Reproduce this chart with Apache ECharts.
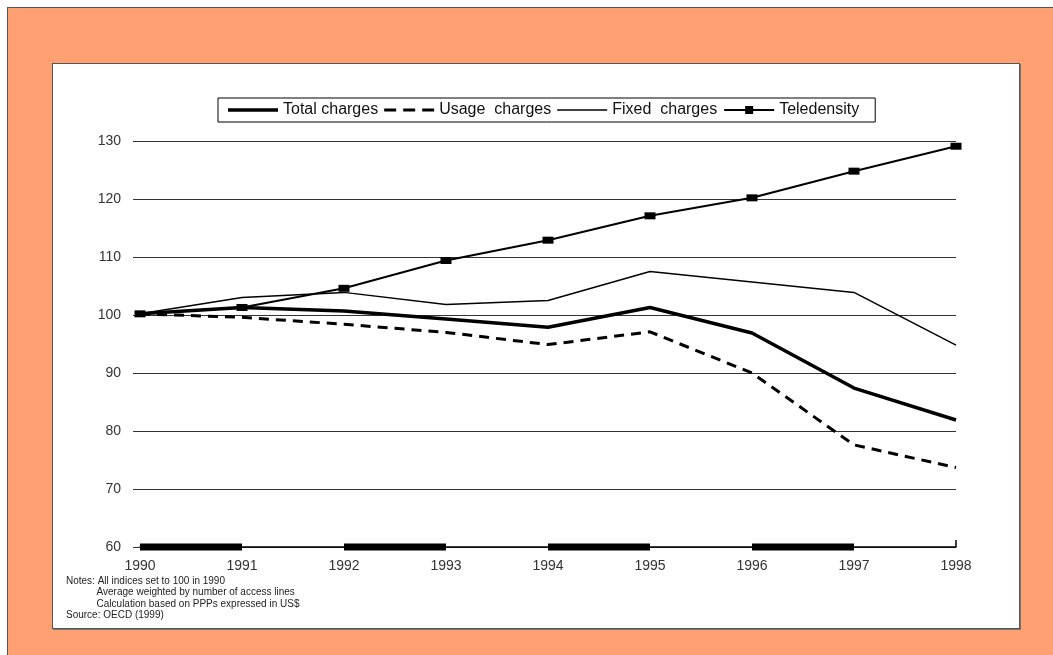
<!DOCTYPE html>
<html>
<head>
<meta charset="utf-8">
<script src="https://cdn.jsdelivr.net/npm/echarts@6/dist/echarts.min.js"></script>
<style>
  html, body { margin: 0; padding: 0; background: #ffffff; overflow: hidden; }
  #frame {
    position: absolute; left: 7px; top: 7px; width: 1060px; height: 660px;
    background: #ffa073; border-left: 1px solid #555; border-top: 1px solid #555;
  }
  #panel {
    position: absolute; left: 52px; top: 63px; width: 966px; height: 564px;
    background: #ffffff; border: 1px solid #555;
    box-shadow: 1px 1px 0 #777;
  }
  #chart { position: absolute; left: 0; top: 0; width: 1053px; height: 655px; }
</style>
</head>
<body>
<div id="frame"></div>
<div id="panel"></div>
<div id="chart"></div>
<script>
// Years on the horizontal axis
const years = ['1990', '1991', '1992', '1993', '1994', '1995', '1996', '1997', '1998'];

// Index series (1990 = 100)
const totalCharges = [100.2, 101.3, 100.7, 99.3, 97.9, 101.3, 96.9, 87.4, 81.9];
const usageCharges = [100.2, 99.6, 98.4, 97.0, 94.9, 97.1, 90.0, 77.6, 73.7];
const fixedCharges = [100.2, 103.0, 103.9, 101.8, 102.5, 107.5, 105.7, 103.9, 94.8];
const teledensity  = [100.2, 101.3, 104.6, 109.4, 112.9, 117.1, 120.2, 124.8, 129.1];

// Thick bands along the base axis, as [from year index, to year index]
const axisBands = [[0, 1], [2, 3], [4, 5], [6, 7]];
const axisBase = 60;

// Footnote lines
const notes = [
  'Notes: All indices set to 100 in 1990',
  '           Average weighted by number of access lines',
  '           Calculation based on PPPs expressed in US$',
  'Source: OECD (1999)'
];

const chart = echarts.init(document.getElementById('chart'));
const font = '"Liberation Sans", Arial, sans-serif';

// Legend swatches: solid thick, dashed, solid thin
const iconThick = 'path://M0,0h50v3.5h-50z';
const iconDash = 'path://M0,0h12v3h-12z M19,0h12v3h-12z M38,0h12v3h-12z';
const iconThin = 'path://M0,0h50v1.5h-50z';

chart.setOption({
  backgroundColor: 'transparent',
  animation: false,
  textStyle: { fontFamily: font },
  grid: { left: 140, right: 97, top: 141, bottom: 108 },
  legend: {
    left: 218, top: 98,
    padding: [4, 16, 4, 10],
    itemGap: 6,
    itemWidth: 50, itemHeight: 10,
    borderColor: '#000', borderWidth: 1,
    textStyle: { fontSize: 16, color: '#111', fontFamily: font },
    data: [
      { name: 'Total charges', icon: iconThick },
      { name: 'Usage  charges', icon: iconDash },
      { name: 'Fixed  charges', icon: iconThin },
      { name: 'Teledensity' }
    ]
  },
  xAxis: {
    type: 'category',
    data: years,
    boundaryGap: false,
    axisLine: { show: true, lineStyle: { color: '#000', width: 1.5 } },
    axisTick: {
      show: true, inside: true, length: 7,
      interval: function (index) { return index === years.length - 1; },
      lineStyle: { color: '#000', width: 1.5 }
    },
    axisLabel: { margin: 12, fontSize: 14, color: '#333', fontFamily: font },
    splitLine: { show: false }
  },
  yAxis: {
    type: 'value',
    min: 60, max: 130, interval: 10,
    axisLine: { show: false },
    axisTick: { show: true, length: 7, lineStyle: { color: '#333', width: 1 } },
    axisLabel: { margin: 19, fontSize: 14, color: '#333', fontFamily: font },
    splitLine: { show: true, lineStyle: { color: '#333', width: 1 } }
  },
  series: [
    {
      name: 'Total charges', type: 'line', data: totalCharges,
      symbol: 'none', z: 4,
      lineStyle: { color: '#000', width: 3.5 }, itemStyle: { color: '#000' }
    },
    {
      name: 'Usage  charges', type: 'line', data: usageCharges,
      symbol: 'none', z: 3,
      lineStyle: { color: '#000', width: 3, type: [10, 7] }, itemStyle: { color: '#000' }
    },
    {
      name: 'Fixed  charges', type: 'line', data: fixedCharges,
      symbol: 'none', z: 3,
      lineStyle: { color: '#000', width: 1.5 }, itemStyle: { color: '#000' }
    },
    {
      name: 'Teledensity', type: 'line', data: teledensity,
      symbol: 'rect', symbolSize: [11, 7], showSymbol: true, z: 5,
      lineStyle: { color: '#000', width: 2 }, itemStyle: { color: '#000' }
    },
    {
      name: 'axisBands', type: 'custom', z: 6, silent: true,
      data: axisBands,
      renderItem: function (params, api) {
        const a = api.coord([api.value(0), axisBase]);
        const b = api.coord([api.value(1), axisBase]);
        return {
          type: 'rect',
          shape: { x: a[0], y: a[1] - 3.5, width: b[0] - a[0], height: 7 },
          style: { fill: '#000' }
        };
      }
    }
  ],
  graphic: notes.map(function (line, i) {
    return {
      type: 'text', left: 66, top: 576 + i * 11.5,
      style: { text: line, font: '10px ' + font, fill: '#222' }
    };
  })
});
</script>
</body>
</html>
